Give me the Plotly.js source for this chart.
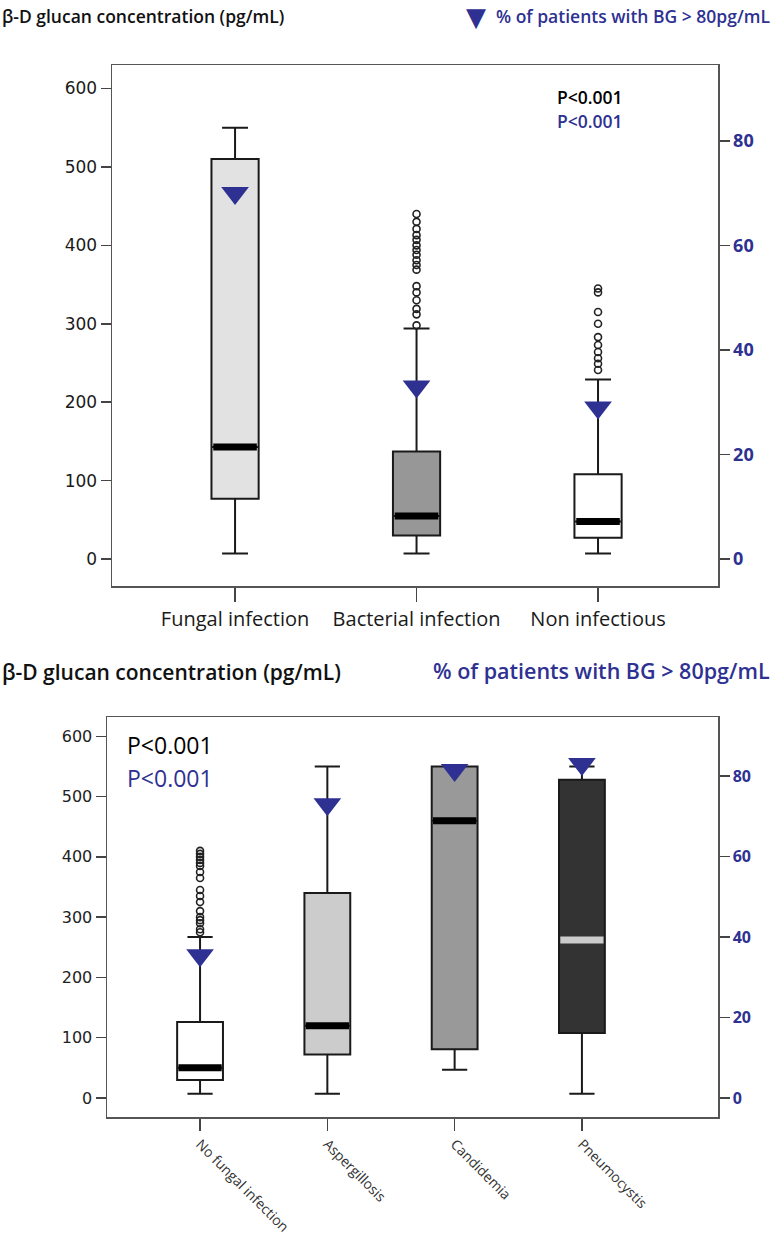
<!DOCTYPE html>
<html>
<head>
<meta charset="utf-8">
<script src="https://cdn.plot.ly/plotly-3.0.1.min.js"></script>
<style>html,body{margin:0;padding:0;background:#fff;}#chart{width:773px;height:1240px;}</style>
</head>
<body>
<div id="chart"></div>
<script>
// ---- Top panel data ----
var topCats = ['Fungal infection', 'Bacterial infection', 'Non infectious'];
var topLower = [7, 7, 7];
var topQ1 = [77, 30, 27];
var topMedian = [143, 55, 48];
var topQ3 = [510, 137, 108];
var topUpper = [550, 294, 229];
var topPct = [70, 33, 29];
var topOutBacterial = [298, 312, 319, 330, 340, 348, 369, 375, 381, 388, 394, 400, 407, 413, 421, 430, 440];
var topOutNonInfectious = [241, 249, 256, 264, 273, 283, 300, 315, 340, 345];

// ---- Bottom panel data ----
var botCats = ['No fungal infection', 'Aspergillosis', 'Candidemia', 'Pneumocystis'];
var botLower = [7, 7, 47, 7];
var botQ1 = [30, 72, 81, 108];
var botMedian = [50, 120, 460, 262];
var botQ3 = [126, 340, 550, 528];
var botUpper = [267, 550, 550, 550];
var botPct = [35.5, 73, 81.5, 83];
var botOutNoFungal = [275, 280, 290, 295, 300, 310, 325, 335, 345, 365, 375, 385, 390, 395, 400, 405, 410];

// ---- styles ----
var topFill = ['#e2e2e2', '#979797', '#ffffff'];
var botFill = ['#ffffff', '#cccccc', '#999999', '#333333'];
var botMedColor = ['#000000', '#000000', '#000000', '#cccccc'];
var BLUE = '#2e3192';
var topBoxW = 0.26, botBoxW = 0.36;

var traces = [];
var shapes = [];

function addBoxes(cats, lo, q1, med, q3, up, fills, medColors, w, xa, ya) {
  for (var i = 0; i < cats.length; i++) {
    traces.push({
      type: 'box', x: [i], q1: [q1[i]], median: [med[i]], q3: [q3[i]],
      lowerfence: [lo[i]], upperfence: [up[i]],
      width: w, whiskerwidth: 0.55, fillcolor: fills[i],
      line: {color: '#1a1a1a', width: 2}, boxpoints: false,
      xaxis: xa, yaxis: ya, showlegend: false, hoverinfo: 'skip'
    });
    shapes.push({
      type: 'line', xref: xa, yref: ya,
      x0: i - w / 2 + 0.01, x1: i + w / 2 - 0.01, y0: med[i], y1: med[i],
      line: {color: medColors[i], width: 7}
    });
  }
}
addBoxes(topCats, topLower, topQ1, topMedian, topQ3, topUpper, topFill, ['#000','#000','#000'], topBoxW, 'x', 'y');
addBoxes(botCats, botLower, botQ1, botMedian, botQ3, botUpper, botFill, botMedColor, botBoxW, 'x2', 'y3');

function outliers(idx, vals, xa, ya) {
  traces.push({
    type: 'scatter', mode: 'markers',
    x: vals.map(function () { return idx; }), y: vals,
    marker: {symbol: 'circle-open', size: 7, color: '#222', line: {width: 1.6, color: '#222'}},
    xaxis: xa, yaxis: ya, showlegend: false, hoverinfo: 'skip'
  });
}
outliers(1, topOutBacterial, 'x', 'y');
outliers(2, topOutNonInfectious, 'x', 'y');
outliers(0, botOutNoFungal, 'x2', 'y3');

traces.push({
  type: 'scatter', mode: 'markers', x: topCats.map(function (c, i) { return i; }), y: topPct,
  marker: {symbol: 'triangle-down', size: 24, color: BLUE},
  xaxis: 'x', yaxis: 'y2', showlegend: false, hoverinfo: 'skip'
});
traces.push({
  type: 'scatter', mode: 'markers', x: botCats.map(function (c, i) { return i; }), y: botPct,
  marker: {symbol: 'triangle-down', size: 24, color: BLUE},
  xaxis: 'x2', yaxis: 'y4', showlegend: false, hoverinfo: 'skip'
});

var H = 1240, W = 773;
function py(px) { return (H - px) / H; }
function pxx(px) { return px / W; }

var axLine = {showline: true, linecolor: '#555', linewidth: 1.5, showgrid: false, zeroline: false};

function merge(a, b) { var o = {}; for (var k in a) o[k] = a[k]; for (var k2 in b) o[k2] = b[k2]; return o; }

var layout = {
  width: W, height: H,
  margin: {l: 0, r: 0, t: 0, b: 0},
  paper_bgcolor: '#fff', plot_bgcolor: '#fff',
  showlegend: false,
  xaxis: merge(axLine, {
    domain: [pxx(112), pxx(718)], anchor: 'y', range: [-0.678, 2.661],
    tickvals: topCats.map(function (c, i) { return i; }), ticktext: topCats,
    ticks: 'outside', ticklen: 14, tickwidth: 1.5, tickcolor: '#444', mirror: true,
    tickfont: {family: 'Open Sans', size: 20, color: '#1a1a1a'}
  }),
  yaxis: merge(axLine, {
    domain: [py(586), py(65)], anchor: 'x', range: [-34.4, 630],
    tickvals: [0, 100, 200, 300, 400, 500, 600],
    ticks: 'outside', ticklen: 10, tickwidth: 1.5, tickcolor: '#444',
    tickfont: {family: 'DejaVu Sans', size: 17, color: '#1a1a1a'}
  }),
  yaxis2: merge(axLine, {
    overlaying: 'y', side: 'right', anchor: 'x', range: [-5.17, 94.5],
    tickvals: [0, 20, 40, 60, 80],
    ticks: 'outside', ticklen: 10, tickwidth: 1.5, tickcolor: '#444',
    tickfont: {family: 'Open Sans', size: 18, color: BLUE, weight: 'bold'}
  }),
  xaxis2: merge(axLine, {
    domain: [pxx(107), pxx(718)], anchor: 'y3', range: [-0.731, 4.069],
    tickvals: botCats.map(function (c, i) { return i; }), ticktext: botCats,
    ticks: 'outside', ticklen: 12, tickwidth: 1.5, tickcolor: '#444', mirror: true,
    tickangle: 45,
    tickfont: {family: 'Open Sans', size: 14, color: '#333'}
  }),
  yaxis3: merge(axLine, {
    domain: [py(1117), py(717)], anchor: 'x2', range: [-31.5, 632],
    tickvals: [0, 100, 200, 300, 400, 500, 600],
    ticks: 'outside', ticklen: 10, tickwidth: 1.5, tickcolor: '#444',
    tickfont: {family: 'DejaVu Sans', size: 16, color: '#222'}
  }),
  yaxis4: merge(axLine, {
    overlaying: 'y3', side: 'right', anchor: 'x2', range: [-4.7, 94.7],
    tickvals: [0, 20, 40, 60, 80],
    ticks: 'outside', ticklen: 10, tickwidth: 1.5, tickcolor: '#444',
    tickfont: {family: 'Open Sans', size: 16, color: BLUE, weight: 'bold'}
  }),
  shapes: shapes,
  annotations: [
    {xref: 'paper', yref: 'paper', x: 0, y: py(16), xanchor: 'left', yanchor: 'middle', showarrow: false,
     text: 'β-D glucan concentration (pg/mL)', font: {family: 'Open Sans', size: 17.5, color: '#111', weight: 600}},
    {xref: 'paper', yref: 'paper', x: pxx(476), y: py(17), xanchor: 'center', yanchor: 'middle', showarrow: false,
     text: '▼', font: {family: 'DejaVu Sans', size: 26, color: BLUE}},
    {xref: 'paper', yref: 'paper', x: pxx(772), y: py(16), xanchor: 'right', yanchor: 'middle', showarrow: false,
     text: '% of patients with BG > 80pg/mL', font: {family: 'Open Sans', size: 17.5, color: BLUE, weight: 600}},
    {xref: 'paper', yref: 'paper', x: pxx(555), y: py(97), xanchor: 'left', yanchor: 'middle', showarrow: false,
     text: 'P<0.001', font: {family: 'Open Sans', size: 17.5, color: '#000', weight: 600}},
    {xref: 'paper', yref: 'paper', x: pxx(555), y: py(121), xanchor: 'left', yanchor: 'middle', showarrow: false,
     text: 'P<0.001', font: {family: 'Open Sans', size: 17.5, color: BLUE, weight: 600}},
    {xref: 'paper', yref: 'paper', x: 0, y: py(672), xanchor: 'left', yanchor: 'middle', showarrow: false,
     text: 'β-D glucan concentration (pg/mL)', font: {family: 'Open Sans', size: 21, color: '#111', weight: 600}},
    {xref: 'paper', yref: 'paper', x: pxx(772), y: py(670), xanchor: 'right', yanchor: 'middle', showarrow: false,
     text: '% of patients with BG > 80pg/mL', font: {family: 'Open Sans', size: 21.5, color: BLUE, weight: 600}},
    {xref: 'paper', yref: 'paper', x: pxx(125), y: py(745), xanchor: 'left', yanchor: 'middle', showarrow: false,
     text: 'P<0.001', font: {family: 'Open Sans', size: 23, color: '#000'}},
    {xref: 'paper', yref: 'paper', x: pxx(125), y: py(778), xanchor: 'left', yanchor: 'middle', showarrow: false,
     text: 'P<0.001', font: {family: 'Open Sans', size: 23, color: BLUE}}
  ]
};

Plotly.newPlot('chart', traces, layout, {staticPlot: true, displayModeBar: false});
</script>
</body>
</html>
